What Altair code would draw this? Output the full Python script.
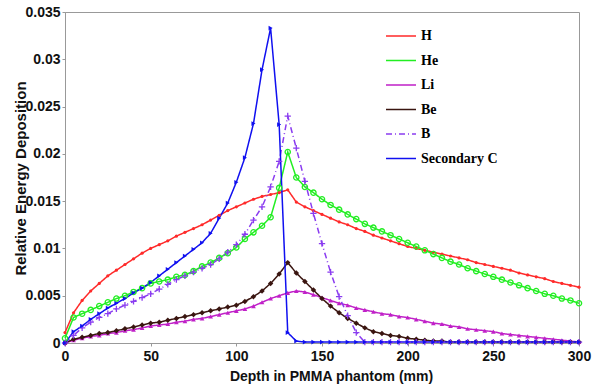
import altair as alt
import pandas as pd

depth = list(range(0, 305, 5))

H = [0.0011, 0.0032, 0.0045, 0.0055, 0.0063, 0.0071, 0.0077, 0.0083, 0.0089, 0.0095,
     0.0100, 0.0104, 0.0108, 0.0113, 0.0117, 0.0121, 0.0125, 0.0130, 0.0135, 0.0140,
     0.0144, 0.0148, 0.0152, 0.0155, 0.0157, 0.0159, 0.0162, 0.0149, 0.0144, 0.0140,
     0.0136, 0.0132, 0.0128, 0.0125, 0.0121, 0.0118, 0.0114, 0.0111, 0.0108, 0.0105,
     0.0102, 0.0100, 0.0098, 0.0096, 0.0094, 0.0092, 0.0090, 0.0088, 0.0085, 0.0083,
     0.0081, 0.0079, 0.0077, 0.0074, 0.0072, 0.0070, 0.0068, 0.0065, 0.0063, 0.0061,
     0.0059]

He = [0.0005, 0.0027, 0.0031, 0.0035, 0.0039, 0.0043, 0.0047, 0.0050, 0.0054, 0.0058,
      0.0063, 0.0065, 0.0067, 0.0070, 0.0072, 0.0076, 0.0081, 0.0085, 0.0090, 0.0095,
      0.0101, 0.0110, 0.0117, 0.0124, 0.0133, 0.0164, 0.0202, 0.0175, 0.0165, 0.0159,
      0.0152, 0.0146, 0.0141, 0.0136, 0.0131, 0.0126, 0.0122, 0.0118, 0.0114, 0.0110,
      0.0106, 0.0102, 0.0098, 0.0094, 0.0090, 0.0086, 0.0083, 0.0079, 0.0076, 0.0073,
      0.0070, 0.0067, 0.0064, 0.0061, 0.0058, 0.0055, 0.0052, 0.0050, 0.0047, 0.0045,
      0.0042]

Li = [0.0000, 0.0003, 0.0005, 0.0007, 0.0008, 0.0010, 0.0011, 0.0013, 0.0014, 0.0016,
      0.0018, 0.0019, 0.0020, 0.0022, 0.0023, 0.0025, 0.0026, 0.0028, 0.0030, 0.0032,
      0.0034, 0.0036, 0.0039, 0.0043, 0.0047, 0.0050, 0.0053, 0.0055, 0.0054, 0.0051,
      0.0048, 0.0045, 0.0042, 0.0040, 0.0037, 0.0035, 0.0033, 0.0031, 0.0030, 0.0028,
      0.0027, 0.0025, 0.0023, 0.0021, 0.0020, 0.0018, 0.0017, 0.0015, 0.0014, 0.0013,
      0.0012, 0.0010, 0.0009, 0.0008, 0.0007, 0.0006, 0.0005, 0.0004, 0.0003, 0.0002,
      0.0001]

Be = [0.0000, 0.0004, 0.0006, 0.0008, 0.0010, 0.0011, 0.0013, 0.0015, 0.0017, 0.0019,
      0.0021, 0.0022, 0.0024, 0.0026, 0.0028, 0.0030, 0.0032, 0.0034, 0.0036, 0.0038,
      0.0040, 0.0044, 0.0049, 0.0055, 0.0063, 0.0073, 0.0085, 0.0074, 0.0065, 0.0056,
      0.0047, 0.0039, 0.0032, 0.0026, 0.0021, 0.0016, 0.0012, 0.0010, 0.0008, 0.0007,
      0.0005, 0.0004, 0.0003, 0.0002, 0.0002, 0.0001, 0.0001, 0.0001, 0.0001, 0.0001,
      0.0001, 0.0001, 0.0001, 0.0001, 0.0001, 0.0001, 0.0001, 0.0001, 0.0001, 0.0001,
      0.0001]

B = [0.0000, 0.0008, 0.0016, 0.0022, 0.0027, 0.0031, 0.0036, 0.0040, 0.0044, 0.0048,
     0.0052, 0.0057, 0.0062, 0.0067, 0.0071, 0.0075, 0.0079, 0.0083, 0.0089, 0.0096,
     0.0104, 0.0115, 0.0130, 0.0144, 0.0165, 0.0192, 0.0240, 0.0206, 0.0171, 0.0137,
     0.0105, 0.0075, 0.0049, 0.0029, 0.0011, 0.0001, 0.0001, 0.0001, 0.0001, 0.0001,
     0.0001, 0.0001, 0.0001, 0.0001, 0.0001, 0.0001, 0.0001, 0.0001, 0.0001, 0.0001,
     0.0001, 0.0001, 0.0001, 0.0001, 0.0001, 0.0001, 0.0001, 0.0001, 0.0001, 0.0001,
     0.0001]

SecC = [0.0000, 0.0012, 0.0018, 0.0025, 0.0031, 0.0037, 0.0042, 0.0047, 0.0053, 0.0058,
        0.0064, 0.0071, 0.0078, 0.0085, 0.0092, 0.0099, 0.0106, 0.0116, 0.0132, 0.0148,
        0.0170, 0.0196, 0.0232, 0.0289, 0.0333, 0.0231, 0.0011, 0.0002, 0.0001, 0.0001,
        0.0001, 0.0001, 0.0001, 0.0001, 0.0001, 0.0001, 0.0001, 0.0001, 0.0001, 0.0001,
        0.0001, 0.0001, 0.0001, 0.0001, 0.0001, 0.0001, 0.0001, 0.0001, 0.0001, 0.0001,
        0.0001, 0.0001, 0.0001, 0.0001, 0.0001, 0.0001, 0.0001, 0.0001, 0.0001, 0.0001,
        0.0001]

names = ["H", "He", "Li", "Be", "B", "Secondary C"]
series_values = [H, He, Li, Be, B, SecC]
colors = ["#ff2a2a", "#22ee22", "#c020c8", "#3a1510", "#8a3cf0", "#1010f0"]
dashes = [[1, 0], [1, 0], [1, 0], [1, 0], [6, 3, 1, 3], [1, 0]]

rows = []
for n, vals in zip(names, series_values):
    for d, v in zip(depth, vals):
        rows.append({"depth": d, "value": v, "series": n})
df = pd.DataFrame(rows)

x_enc = alt.X("depth:Q", scale=alt.Scale(domain=[0, 300], nice=False),
              axis=alt.Axis(values=[0, 50, 100, 150, 200, 250, 300], format="d",
                            labelFlush=False,
                            title="Depth in PMMA phantom (mm)", titleX=266, titleY=37,
                            titleBaseline="alphabetic"))
y_enc = alt.Y("value:Q", scale=alt.Scale(domain=[0, 0.035], nice=False),
              axis=alt.Axis(values=[0, 0.005, 0.01, 0.015, 0.02, 0.025, 0.03, 0.035],
                            format="~g", labelFlush=False,
                            title="Relative Energy Deposition",
                            titleX=-45, titleY=166, titleBaseline="middle",
                            titleFontSize=15))

legend_cfg = dict(orient="none", legendX=320, legendY=8,
                  symbolType="stroke", symbolSize=900,
                  symbolStrokeWidth=1.5, labelFont="Liberation Serif",
                  labelFontWeight="bold", labelFontSize=14,
                  labelColor="black", rowPadding=1.5, labelOffset=4,
                  padding=0)

lines = alt.Chart(df).mark_line(strokeWidth=1.5).encode(
    x=x_enc, y=y_enc,
    color=alt.Color("series:N", scale=alt.Scale(domain=names, range=colors),
                    sort=names, title=None, legend=alt.Legend(**legend_cfg)),
    strokeDash=alt.StrokeDash("series:N", scale=alt.Scale(domain=names, range=dashes),
                              sort=names, title=None, legend=alt.Legend(**legend_cfg)),
    order=alt.Order("depth:Q"),
)

marker_specs = {
    "H": dict(shape="circle", size=10, filled=True),
    "He": dict(shape="circle", size=28, filled=False, strokeWidth=1.3),
    "Li": dict(shape="triangle-up", size=22, filled=True),
    "Be": dict(shape="diamond", size=30, filled=True),
    "B": dict(shape="M-1,0L1,0M0,-1L0,1", size=40, filled=False, strokeWidth=1.3),
    "Secondary C": dict(shape="triangle-right", size=22, filled=True),
}

layers = [lines]
for n, c in zip(names, colors):
    spec = marker_specs[n]
    layers.append(
        alt.Chart(df[df["series"] == n]).mark_point(color=c, opacity=1, **spec).encode(
            x=alt.X("depth:Q"), y=alt.Y("value:Q")
        )
    )

chart = alt.layer(*layers).properties(
    width=514, height=331,
    autosize=alt.AutoSizeParams(type="none"),
    padding={"left": 65, "top": 12, "right": 18, "bottom": 46},
).configure_view(stroke="#999999", strokeWidth=1).configure_axis(
    grid=False, domainColor="#999999", tickColor="#999999", tickSize=3,
    labelFont="Liberation Sans", labelFontWeight="bold", labelFontSize=14,
    labelColor="#111111", titleFont="Liberation Sans", titleFontWeight="bold",
    titleFontSize=13, titleColor="#111111", labelPadding=2,
).configure_axisX(titleFontSize=14, labelPadding=3)

chart.save("out.html", embed_options={"renderer": "svg", "actions": False})
